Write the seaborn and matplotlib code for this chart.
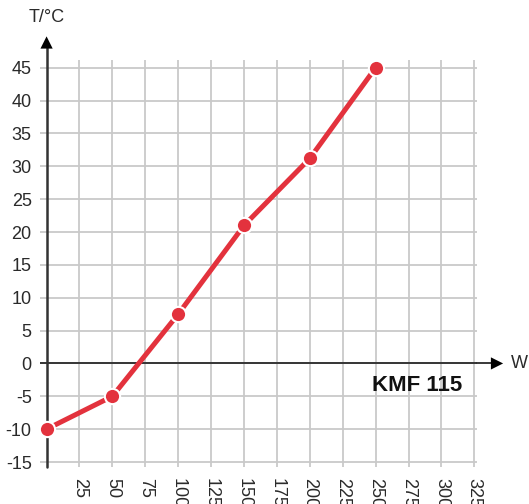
import matplotlib
matplotlib.use("Agg")
import matplotlib.pyplot as plt
import seaborn as sns
import pandas as pd

# data
power_w = [0, 50, 100, 150, 200, 250]
temp_c  = [-10, -5, 7.5, 21, 31.2, 45]
x_ticks = [25, 50, 75, 100, 125, 150, 175, 200, 225, 250, 275, 300, 325]
y_ticks = [-15, -10, -5, 0, 5, 10, 15, 20, 25, 30, 35, 40, 45]
model_name = "KMF 115"

RED  = "#e3323d"
GRID = "#c9c9c9"
INK  = "#2a2a2a"

sns.set_style("white")
plt.rcParams["font.family"] = ["Liberation Sans", "DejaVu Sans"]

df = pd.DataFrame({"W": power_w, "T": temp_c})

fig = plt.figure(figsize=(5.29, 5.04), dpi=100)
ax = fig.add_axes([0.0756, 0.0742, 0.826, 0.807])

ax.set_xlim(-5, 327)
ax.set_ylim(-15.7, 46.2)
ax.set_xticks(x_ticks)
ax.set_yticks(y_ticks)
ax.set_xticklabels([str(t) for t in x_ticks], rotation=270, fontsize=13)
ax.set_yticklabels([str(t) for t in y_ticks], fontsize=13)
ax.tick_params(axis="y", length=0, pad=6, colors=INK)
ax.tick_params(axis="x", length=0, pad=8, colors=INK)
ax.grid(True, color=GRID, linewidth=1.3)
ax.set_axisbelow(True)
for s in ax.spines.values():
    s.set_visible(False)

# axis lines with arrows
ax.axhline(0, color=INK, linewidth=1.3, zorder=2)
ax.plot([0, 0], [-15.7, 48], color="#333333", linewidth=1.8, clip_on=False, zorder=2)
ax.annotate("", xy=(0, 50.2), xytext=(0, 47.5), xycoords="data",
            arrowprops=dict(arrowstyle="-|>", color="black", mutation_scale=22, lw=0),
            annotation_clip=False)
ax.plot([327, 340], [0, 0], color=INK, linewidth=1.3, clip_on=False, zorder=2)
ax.annotate("", xy=(349, 0), xytext=(337, 0), xycoords="data",
            arrowprops=dict(arrowstyle="-|>", color="black", mutation_scale=22, lw=0),
            annotation_clip=False)

ax.text(0, 52.6, "T/°C", ha="center", va="center", fontsize=13, color=INK)
ax.text(353, 0, "W", ha="left", va="center", fontsize=13, color=INK)
ax.text(316, -3.3, model_name, ha="right", va="center", fontsize=16,
        fontweight="bold", color="#111111")

sns.lineplot(data=df, x="W", y="T", ax=ax, color=RED, linewidth=3.6,
             marker="o", markersize=11, markeredgecolor="white",
             markeredgewidth=1.5, clip_on=False, zorder=5)
ax.set_xlabel("")
ax.set_ylabel("")

fig.savefig("out.png", dpi=100)
